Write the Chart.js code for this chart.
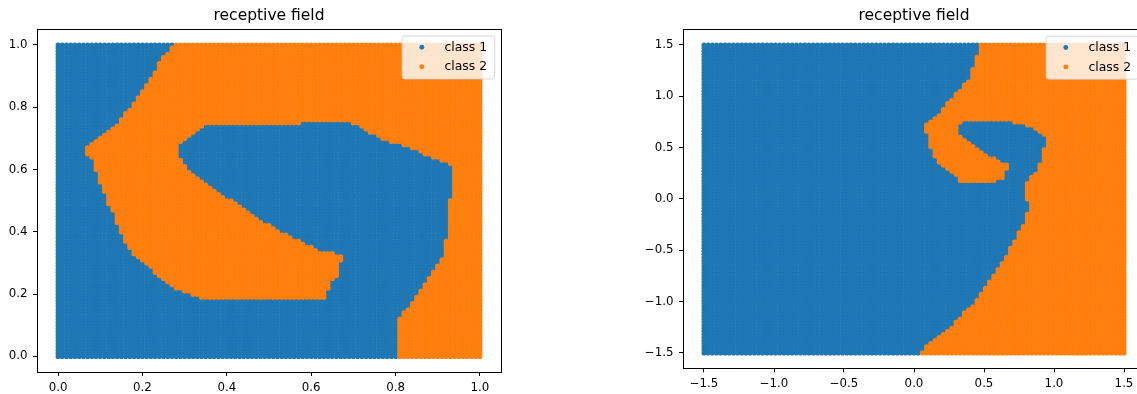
<!DOCTYPE html>
<html><head><meta charset="utf-8">
<script src="https://cdn.jsdelivr.net/npm/chart.js@4.4.1/dist/chart.umd.min.js"></script>
<style>
html,body{margin:0;padding:0;background:#fff;overflow:hidden;width:1137px;height:394px;}
#wrap{position:relative;width:1137px;height:394px;overflow:hidden;background:#fff;}
canvas{position:absolute;top:0;}
#c1{left:0;} #c2{left:600px;}
</style></head><body><div id="wrap"><canvas id="c1" width="560" height="394"></canvas><canvas id="c2" width="600" height="394"></canvas></div>
<script>
// ---------- data ----------
const chartTitle = 'receptive field';
const classLabels = ['class 1', 'class 2'];

// grid coordinates (x and y share the same values)
const leftGrid = [0,0.01,0.02,0.03,0.04,0.05,0.06,0.07,0.08,0.09,0.1,0.11,0.12,0.13,0.14,0.15,0.16,0.17,0.18,0.19,0.2,0.21,0.22,0.23,0.24,0.25,0.26,0.27,0.28,0.29,0.3,0.31,0.32,0.33,0.34,0.35,0.36,0.37,0.38,0.39,0.4,0.41,0.42,0.43,0.44,0.45,0.46,0.47,0.48,0.49,0.5,0.51,0.52,0.53,0.54,0.55,0.56,0.57,0.58,0.59,0.6,0.61,0.62,0.63,0.64,0.65,0.66,0.67,0.68,0.69,0.7,0.71,0.72,0.73,0.74,0.75,0.76,0.77,0.78,0.79,0.8,0.81,0.82,0.83,0.84,0.85,0.86,0.87,0.88,0.89,0.9,0.91,0.92,0.93,0.94,0.95,0.96,0.97,0.98,0.99,1];
const rightGrid = [-1.5,-1.47,-1.44,-1.41,-1.38,-1.35,-1.32,-1.29,-1.26,-1.23,-1.2,-1.17,-1.14,-1.11,-1.08,-1.05,-1.02,-0.99,-0.96,-0.93,-0.9,-0.87,-0.84,-0.81,-0.78,-0.75,-0.72,-0.69,-0.66,-0.63,-0.6,-0.57,-0.54,-0.51,-0.48,-0.45,-0.42,-0.39,-0.36,-0.33,-0.3,-0.27,-0.24,-0.21,-0.18,-0.15,-0.12,-0.09,-0.06,-0.03,0,0.03,0.06,0.09,0.12,0.15,0.18,0.21,0.24,0.27,0.3,0.33,0.36,0.39,0.42,0.45,0.48,0.51,0.54,0.57,0.6,0.63,0.66,0.69,0.72,0.75,0.78,0.81,0.84,0.87,0.9,0.93,0.96,0.99,1.02,1.05,1.08,1.11,1.14,1.17,1.2,1.23,1.26,1.29,1.32,1.35,1.38,1.41,1.44,1.47,1.5];

// per grid row (bottom to top): column indices where the class switches (row starts as class 1)
const leftRows = [
[81],[81],[81],[81],[81],[81],[81],[81],[81],[81],
[81],[81],[81],[82],[82],[83],[84],[84],[85],[34,64,85],
[32,64,86],[30,64,86],[28,65,87],[27,65,87],[26,65,88],[25,66,88],[24,67,89],[23,67,89],[23,67,90],[22,67,90],
[21,67,91],[20,68,91],[19,68,92],[18,66,92],[18,62,92],[17,61,92],[17,59,92],[16,58,92],[16,56,93],[16,55,93],
[15,53,93],[15,52,93],[15,51,93],[14,49,93],[14,48,93],[14,47,93],[14,46,93],[13,45,93],[13,44,93],[12,43,93],
[12,42,93],[12,40,94],[12,39,94],[11,38,94],[11,37,94],[11,36,94],[10,35,94],[10,34,94],[10,33,94],[10,32,94],
[9,31,94],[9,31,94],[9,30,93],[9,30,91],[8,29,89],[7,29,87],[7,29,86],[7,29,84],[8,29,82],[9,30,79],
[10,31,77],[11,32,76],[12,33,74],[13,34,73],[14,35,72],[15,58,70],[15],[16],[16],[17],
[18],[18],[19],[19],[20],[20],[21],[21],[22],[22],
[23],[23],[24],[24],[24],[25],[25],[26],[27],[27],
[28]
];
const rightRows = [
[52],[53],[53],[54],[55],[56],[57],[58],[59],[60],
[60],[61],[62],[62],[63],[64],[65],[65],[66],[66],
[67],[67],[68],[68],[69],[69],[70],[70],[71],[71],
[72],[72],[73],[73],[73],[74],[74],[75],[75],[75],
[76],[76],[77],[77],[77],[77],[78],[78],[78],[78],
[77],[77],[77],[77],[77],[77],[61,70,78],[61,72,78],[60,72,79],[59,72,80],
[58,73,80],[57,73,80],[56,71,81],[56,70,81],[55,68,81],[55,67,81],[55,66,81],[54,65,82],[54,64,82],[54,63,82],
[54,62,82],[54,61,81],[53,61,80],[53,61,79],[53,61,77],[54,62,74],[55],[56],[57],[57],
[58],[58],[59],[60],[60],[61],[62],[62],[63],[64],
[64],[64],[64],[65],[65],[65],[65],[66],[66],[66],
[66]
];

const leftTicks = [0, 0.2, 0.4, 0.6, 0.8, 1.0];
const rightTicks = [-1.5, -1.0, -0.5, 0, 0.5, 1.0, 1.5];
const colors = ['#1f77b4', '#ff7f0e'];

// ---------- build ----------
function buildPoints(xs, ys, rows) {
  const out = [[], []];
  rows.forEach((t, j) => {
    let cls = 0, p = 0;
    for (let i = 0; i < xs.length; i++) {
      while (p < t.length && t[p] <= i) { cls ^= 1; p++; }
      out[cls].push({x: xs[i], y: ys[j]});
    }
  });
  return out;
}
const FONT = "'DejaVu Sans', 'Liberation Sans', sans-serif";
const R = 2.55;
function fmt(v) { return (v < 0 ? '\u2212' : '') + Math.abs(v).toFixed(1); }

const framePlugin = {
  id: 'frameLegend',
  afterDatasetsDraw(chart) {
    const {ctx, chartArea: a} = chart;
    ctx.save();
    // spines
    const x0 = Math.round(a.left - 0.5) + 0.5, x1 = Math.round(a.right - 0.5) + 0.5;
    const y0 = Math.round(a.top - 0.5) + 0.5, y1 = Math.round(a.bottom - 0.5) + 0.5;
    ctx.strokeStyle = '#000'; ctx.lineWidth = 1;
    ctx.strokeRect(x0, y0, x1 - x0, y1 - y0);
    // legend box
    const w = 92.6, h = 43, r = 3;
    const lx = a.right - 6.3 - w, ly = a.top + 6.6;
    ctx.beginPath();
    ctx.moveTo(lx + r, ly); ctx.lineTo(lx + w - r, ly); ctx.arcTo(lx + w, ly, lx + w, ly + r, r);
    ctx.lineTo(lx + w, ly + h - r); ctx.arcTo(lx + w, ly + h, lx + w - r, ly + h, r);
    ctx.lineTo(lx + r, ly + h); ctx.arcTo(lx, ly + h, lx, ly + h - r, r);
    ctx.lineTo(lx, ly + r); ctx.arcTo(lx, ly, lx + r, ly, r); ctx.closePath();
    ctx.fillStyle = 'rgba(255,255,255,0.8)'; ctx.fill();
    ctx.strokeStyle = 'rgba(204,204,204,0.8)'; ctx.stroke();
    chart.data.datasets.forEach((ds, i) => {
      const cy = ly + 11.3 + i * 19.4;
      ctx.beginPath(); ctx.arc(lx + 19.7, cy, 2.45, 0, Math.PI * 2);
      ctx.fillStyle = ds.pointBackgroundColor; ctx.fill();
      ctx.fillStyle = '#000'; ctx.font = '12.4px ' + FONT;
      ctx.textBaseline = 'middle'; ctx.textAlign = 'left';
      ctx.fillText(ds.label, lx + 42.4, cy + 0.5);
    });
    ctx.restore();
  }
};

function axis(min, max, ticks, fitKey, fitVal) {
  return {
    type: 'linear', min, max,
    afterBuildTicks: s => { s.ticks = ticks.map(v => ({value: v})); },
    afterFit: s => { s[fitKey] = fitVal; },
    ticks: {autoSkip: false, maxRotation: 0, minRotation: 0, padding: fitKey === 'width' ? 5.5 : 5, color: '#000',
      font: {family: FONT, size: 11.8}, callback: v => fmt(v)},
    grid: {display: true, drawOnChartArea: false, drawTicks: true, tickLength: 4, color: '#000', lineWidth: 1},
    border: {display: false}
  };
}

function makeChart(id, grid, rows, ticks, lo, hi, yAxisWidth, xAxisHeight, rightPad, titleBottom) {
  const pts = buildPoints(grid, grid, rows);
  return new Chart(document.getElementById(id), {
    type: 'scatter',
    data: {datasets: pts.map((d, i) => ({
      label: classLabels[i], data: d, order: 2 - i,
      pointRadius: R, pointHoverRadius: R, pointBorderWidth: 0,
      pointBackgroundColor: colors[i], pointBorderColor: colors[i], showLine: false
    }))},
    options: {
      responsive: false, animation: false, devicePixelRatio: 1, events: [],
      parsing: false, normalized: true,
      layout: {padding: {left: 0, right: rightPad, top: 0, bottom: 0}},
      plugins: {
        legend: {display: false}, tooltip: {enabled: false},
        title: {display: true, text: chartTitle, fullSize: false, color: '#000',
          font: {family: FONT, size: 15.5, weight: 'normal'}, padding: {top: 6.8, bottom: titleBottom}}
      },
      scales: {
        x: axis(lo, hi, ticks, 'height', xAxisHeight),
        y: axis(lo, hi, ticks, 'width', yAxisWidth)
      }
    },
    plugins: [framePlugin]
  });
}

makeChart('c1', leftGrid, leftRows, leftTicks, -0.05, 1.05, 37, 22, 59, 4.0);
makeChart('c2', rightGrid, rightRows, rightTicks, -1.65, 1.65, 83, 25.7, 55, 4.2);
</script></body></html>
